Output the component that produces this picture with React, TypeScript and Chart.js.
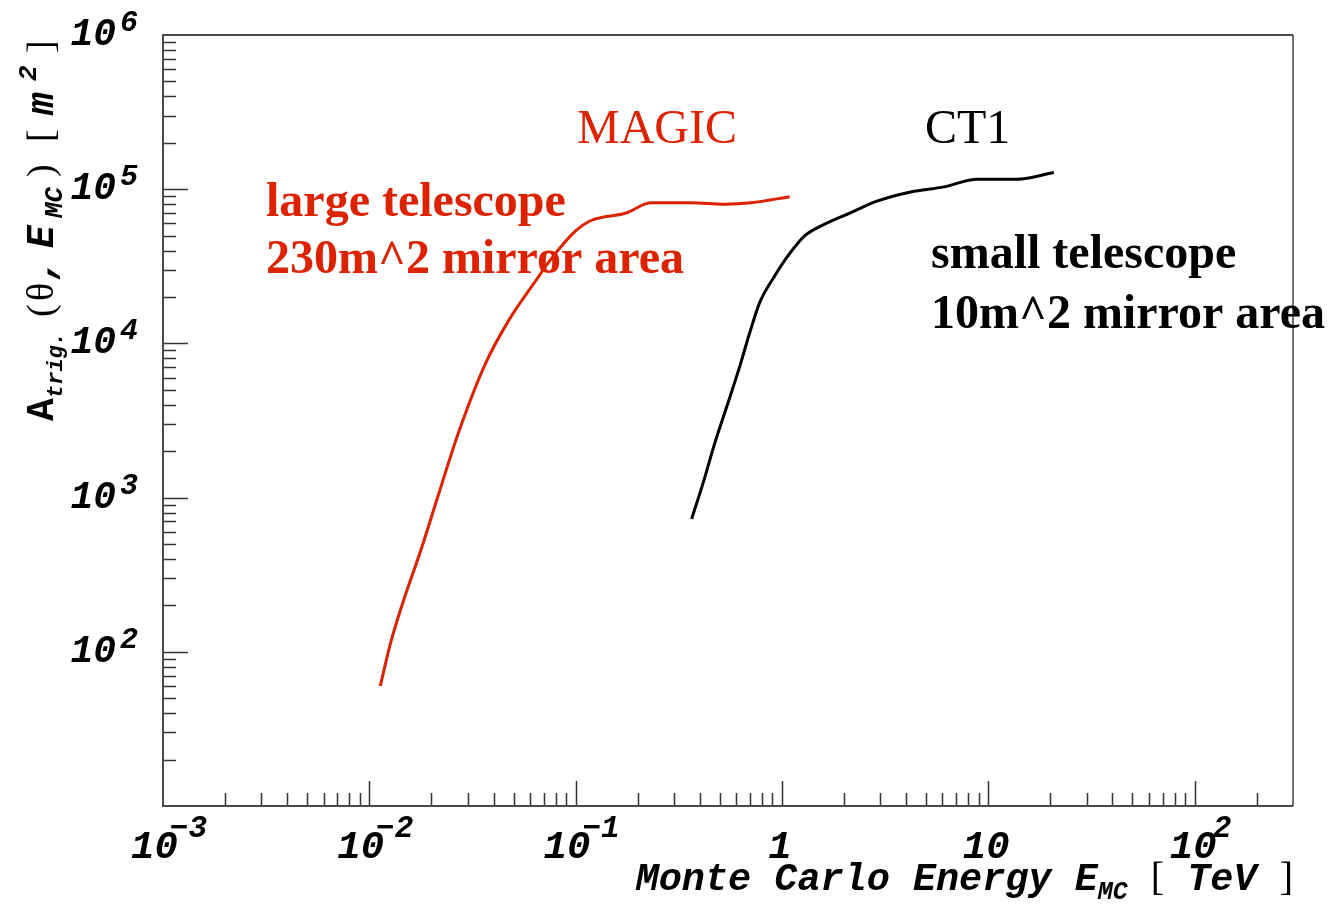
import React, { useEffect, useRef } from 'react';
import { Chart, registerables } from 'chart.js';
Chart.register(...registerables);

// ---- data ----
const magicEnergy = [0.0113, 0.0127, 0.0145, 0.0178, 0.0218, 0.0272, 0.0366, 0.0474, 0.0638, 0.0766, 0.0997, 0.1195, 0.174, 0.233, 0.363, 0.528, 0.708, 1.09];
const magicArea = [60, 115, 206, 459, 1080, 2690, 7410, 14100, 25300, 35700, 53400, 62900, 69800, 81600, 81600, 79900, 81600, 89400];

const ct1Energy = [0.365, 0.415, 0.473, 0.548, 0.625, 0.698, 0.78, 0.922, 1.069, 1.288, 1.549, 2.162, 2.91, 4.21, 6.11, 8.85, 13.8, 20.8];
const ct1Area = [727, 1246, 2265, 4121, 7125, 11730, 18370, 27350, 36900, 49740, 57800, 70600, 83900, 96000, 103500, 116200, 116200, 128300];

const xTickValues = [0.001, 0.01, 0.1, 1, 10, 100];
const xTickBase = ['10', '10', '10', '1', '10', '10'];
const xTickExp = ['\u22123', '\u22122', '\u22121', '', '', '2'];

const yTickValues = [100, 1000, 10000, 100000, 1000000];
const yTickBase = ['10', '10', '10', '10', '10'];
const yTickExp = ['2', '3', '4', '5', '6'];

const X_MIN = 0.001;
const X_MAX = 300;
const Y_MIN = 10;
const Y_MAX = 1000000;

const RED = '#dd2200';
const MONO = '"Liberation Mono", "DejaVu Sans Mono", monospace';
const SERIF = '"Liberation Serif", "DejaVu Serif", serif';

type Piece = { t: string; font: string; dy?: number; at?: number };

function drawPieces(ctx: CanvasRenderingContext2D, pieces: Piece[], x: number, y: number) {
  let cx = x;
  for (const p of pieces) {
    ctx.font = p.font;
    if (p.at !== undefined) cx = x + p.at;
    ctx.fillText(p.t, cx, y + (p.dy || 0));
    cx += ctx.measureText(p.t).width;
  }
  return cx;
}
function measurePieces(ctx: CanvasRenderingContext2D, pieces: Piece[]) {
  let w = 0;
  for (const p of pieces) {
    ctx.font = p.font;
    w += ctx.measureText(p.t).width;
  }
  return w;
}

function minorValues(min: number, max: number) {
  const out: number[] = [];
  for (let e = Math.floor(Math.log10(min)); e <= Math.ceil(Math.log10(max)); e++) {
    for (let k = 2; k <= 9; k++) {
      const v = k * Math.pow(10, e);
      if (v > min && v < max) out.push(v);
    }
  }
  return out;
}

const annotationPlugin = {
  id: 'annotations',
  beforeDatasetsDraw(chart: any) {
    const ctx: CanvasRenderingContext2D = chart.ctx;
    ctx.save();
    ctx.textAlign = 'left';
    ctx.textBaseline = 'alphabetic';
    ctx.fillStyle = RED;
    ctx.font = `48px ${SERIF}`;
    ctx.fillText('MAGIC', 577, 143);
    ctx.font = `bold 48px ${SERIF}`;
    ctx.fillText('large telescope', 266, 216);
    ctx.fillText('230m^2 mirror area', 266, 273);
    ctx.fillStyle = '#000';
    ctx.font = `48px ${SERIF}`;
    ctx.fillText('CT1', 925, 143);
    ctx.font = `bold 48px ${SERIF}`;
    ctx.fillText('small telescope', 931, 268);
    ctx.fillText('10m^2 mirror area', 931, 328);
    ctx.restore();
  },
};

const framePlugin = {
  id: 'rootFrame',
  afterDraw(chart: any) {
    const ctx: CanvasRenderingContext2D = chart.ctx;
    const xs = chart.scales.x;
    const ys = chart.scales.y;
    const { left, right, top, bottom } = chart.chartArea;
    ctx.save();
    // ticks (drawn inside the frame, ROOT style)
    ctx.strokeStyle = '#333';
    ctx.lineWidth = 1.5;
    ctx.beginPath();
    for (const v of xTickValues) {
      const px = Math.round(xs.getPixelForValue(v)) + 0.5;
      if (px > left + 1 && px < right - 1) {
        ctx.moveTo(px, bottom);
        ctx.lineTo(px, bottom - 25);
      }
    }
    for (const v of minorValues(X_MIN, X_MAX)) {
      const px = Math.round(xs.getPixelForValue(v)) + 0.5;
      ctx.moveTo(px, bottom);
      ctx.lineTo(px, bottom - 13);
    }
    for (const v of yTickValues) {
      const py = Math.round(ys.getPixelForValue(v)) + 0.5;
      if (py > top + 1 && py < bottom - 1) {
        ctx.moveTo(left, py);
        ctx.lineTo(left + 25, py);
      }
    }
    for (const v of minorValues(Y_MIN, Y_MAX)) {
      const py = Math.round(ys.getPixelForValue(v)) + 0.5;
      ctx.moveTo(left, py);
      ctx.lineTo(left + 13, py);
    }
    ctx.stroke();

    // frame
    ctx.strokeStyle = '#4a4a4a';
    ctx.lineWidth = 2;
    ctx.beginPath();
    ctx.moveTo(right, top);
    ctx.lineTo(left, top);
    ctx.lineTo(left, bottom);
    ctx.lineTo(right, bottom);
    ctx.stroke();
    ctx.strokeStyle = '#111';
    ctx.lineWidth = 1.2;
    ctx.beginPath();
    ctx.moveTo(right, top);
    ctx.lineTo(right, bottom);
    ctx.stroke();

    // x tick labels
    ctx.fillStyle = '#000';
    ctx.textBaseline = 'alphabetic';
    ctx.textAlign = 'left';
    const xBaseFont = `italic bold 39px ${MONO}`;
    const xSupFont = `italic bold 31px ${MONO}`;
    xTickValues.forEach((v, i) => {
      const px = xs.getPixelForValue(v);
      const base = xTickBase[i];
      const exp = xTickExp[i];
      ctx.font = xBaseFont;
      const wb = ctx.measureText(base).width;
      if (!exp) {
        ctx.fillText(base, px - wb / 2 - 2, 858);
      } else {
        ctx.font = xSupFont;
        const ws = ctx.measureText(exp).width;
        const overlap = exp.startsWith('\u2212') ? 8 : 4;
        const total = wb + ws - overlap;
        const bx = px + 6 - total / 2;
        ctx.font = xBaseFont;
        ctx.fillText(base, bx, 858);
        ctx.font = xSupFont;
        ctx.fillText(exp, bx + wb - overlap, 837);
      }
    });

    // y tick labels
    const yBaseFont = `italic bold 38px ${MONO}`;
    const ySupFont = `italic bold 30px ${MONO}`;
    yTickValues.forEach((v, i) => {
      const py = ys.getPixelForValue(v);
      ctx.font = ySupFont;
      const ws = ctx.measureText(yTickExp[i]).width;
      ctx.fillText(yTickExp[i], 138 - ws, py - 4);
      ctx.font = yBaseFont;
      const wb = ctx.measureText(yTickBase[i]).width;
      ctx.fillText(yTickBase[i], 138 - ws - 4 - wb, py + 10);
    });

    // x axis title (right aligned at the frame edge)
    const xt: Piece[] = [
      { t: 'Monte Carlo Energy ', font: `italic bold 38.5px ${MONO}` },
      { t: 'E', font: `italic bold 38.5px ${MONO}` },
      { t: 'MC', font: `italic bold 25px ${MONO}`, dy: 9 },
      { t: ' ', font: `italic bold 38.5px ${MONO}` },
      { t: '[', font: `40px ${SERIF}` },
      { t: ' TeV ', font: `italic bold 38.5px ${MONO}` },
      { t: ']', font: `40px ${SERIF}` },
    ];
    const wx = measurePieces(ctx, xt);
    drawPieces(ctx, xt, right - wx, 890);

    // y axis title (rotated, reading upward)
    ctx.save();
    ctx.translate(53, 421);
    ctx.rotate(-Math.PI / 2);
    const yt: Piece[] = [
      { t: 'A', font: `bold 38px ${MONO}`, at: 0 },
      { t: 'trig.', font: `italic bold 22px ${MONO}`, dy: 9, at: 23 },
      { t: '(', font: `38px ${SERIF}`, at: 104 },
      { t: '\u03b8', font: `38px ${SERIF}`, at: 120 },
      { t: ',', font: `italic bold 38px ${MONO}`, at: 140 },
      { t: 'E', font: `italic bold 38px ${MONO}`, at: 173 },
      { t: 'MC', font: `italic bold 26px ${MONO}`, dy: 9, at: 203 },
      { t: ')', font: `38px ${SERIF}`, at: 244 },
      { t: '[', font: `38px ${SERIF}`, at: 279 },
      { t: 'm', font: `italic bold 38px ${MONO}`, at: 306 },
      { t: '2', font: `italic bold 26px ${MONO}`, dy: -17, at: 340 },
      { t: ']', font: `38px ${SERIF}`, at: 368 },
    ];
    drawPieces(ctx, yt, 0, 0);
    ctx.restore();

    ctx.restore();
  },
};

export default function App() {
  const ref = useRef<HTMLCanvasElement | null>(null);
  useEffect(() => {
    if (!ref.current) return;
    const chart = new Chart(ref.current, {
      type: 'scatter',
      data: {
        datasets: [
          {
            label: 'MAGIC',
            data: magicEnergy.map((x, i) => ({ x, y: magicArea[i] })),
            showLine: true,
            borderColor: RED,
            backgroundColor: RED,
            borderWidth: 3,
            pointRadius: 0,
            cubicInterpolationMode: 'monotone',
          },
          {
            label: 'CT1',
            data: ct1Energy.map((x, i) => ({ x, y: ct1Area[i] })),
            showLine: true,
            borderColor: '#000',
            backgroundColor: '#000',
            borderWidth: 3,
            pointRadius: 0,
            cubicInterpolationMode: 'monotone',
          },
        ],
      },
      options: {
        animation: false,
        responsive: false,
        devicePixelRatio: 1,
        layout: { padding: { left: 163, right: 51, top: 35, bottom: 100 } },
        plugins: { legend: { display: false }, tooltip: { enabled: false } },
        scales: {
          x: { type: 'logarithmic', min: X_MIN, max: X_MAX, display: false },
          y: { type: 'logarithmic', min: Y_MIN, max: Y_MAX, display: false },
        },
      },
      plugins: [annotationPlugin, framePlugin],
    });
    return () => chart.destroy();
  }, []);
  return (
    <div style={{ position: 'absolute', left: 0, top: 0, width: 1344, height: 906, background: '#fff' }}>
      <canvas ref={ref} width={1344} height={906} style={{ width: 1344, height: 906, display: 'block' }} />
    </div>
  );
}
